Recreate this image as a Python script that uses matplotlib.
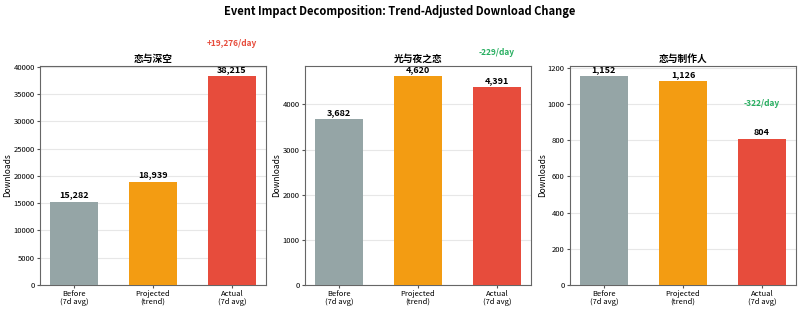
import matplotlib
matplotlib.use('Agg')
import matplotlib.pyplot as plt

plt.rcParams['font.family'] = ['Noto Sans CJK SC', 'DejaVu Sans']

# data
games = ['恋与深空', '光与夜之恋', '恋与制作人']
categories = ['Before\n(7d avg)', 'Projected\n(trend)', 'Actual\n(7d avg)']
before = [15282, 3682, 1152]
projected = [18939, 4620, 1126]
actual = [38215, 4391, 804]

colors = ['#95a5a6', '#f39c12', '#e74c3c']
# height of the per-day change label, in axes fraction
label_y = [1.105, 1.064, 0.831]

fig, axes = plt.subplots(1, 3, figsize=(8, 3.1), dpi=100)
fig.subplots_adjust(left=0.05, right=0.995, top=0.787, bottom=0.081, wspace=0.172)

for i, ax in enumerate(axes):
    vals = [before[i], projected[i], actual[i]]
    x = list(range(len(vals)))
    bars = ax.bar(x, vals, width=0.6, color=colors, zorder=3)
    for b, v in zip(bars, vals):
        ax.annotate(f'{v:,}', (b.get_x() + b.get_width() / 2, v),
                    xytext=(0, 1.5), textcoords='offset points',
                    ha='center', va='bottom', fontsize=6.5, fontweight='bold')
    ax.set_ylim(0, max(vals) * 1.05)
    ax.set_xticks(x)
    ax.set_xticklabels(categories, fontsize=5.5, linespacing=1.0)
    ax.tick_params(axis='y', labelsize=5.5)
    ax.tick_params(length=2.5, pad=1.2, color='#555555')
    ax.set_ylabel('Downloads', fontsize=6, labelpad=0.8)
    ax.set_title(games[i], fontsize=7, fontweight='bold', pad=3)
    ax.grid(axis='y', alpha=0.3, zorder=0)
    for s in ax.spines.values():
        s.set_color('#666666')

    # trend-adjusted change per day, above the "Actual" bar
    diff = actual[i] - projected[i]
    c = '#e74c3c' if diff > 0 else '#27ae60'
    ax.text(2, label_y[i], f'{diff:+,}/day', transform=ax.get_xaxis_transform(),
            ha='center', va='center', fontsize=6, fontweight='bold', color=c)

fig.suptitle('Event Impact Decomposition: Trend-Adjusted Download Change',
             fontsize=8, fontweight='bold', y=0.985)

fig.savefig('out.png', dpi=100)
